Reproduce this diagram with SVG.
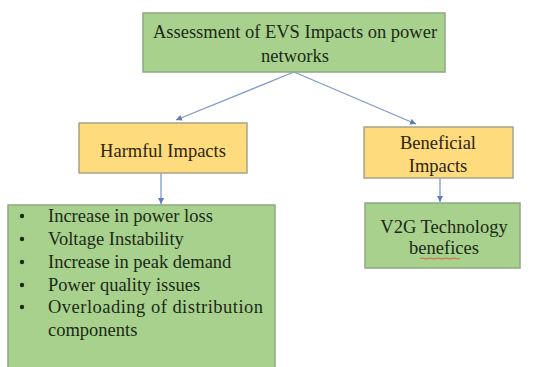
<svg xmlns="http://www.w3.org/2000/svg" width="534" height="367" viewBox="0 0 534 367">
<style>
.g{fill:#a9d18e;stroke:#8fa882;stroke-width:1.5}
.y{fill:#fedb7c;stroke:#a8a38a;stroke-width:1.5}
text{font-family:"Liberation Serif","Times New Roman",serif;font-size:18.5px;fill:#1a2a16}
.m{text-anchor:middle}
.c{stroke:#7f99cc;stroke-width:1.3;fill:none;marker-end:url(#a)}
</style>
<defs>
<marker id="a" markerWidth="8" markerHeight="8" refX="6" refY="3" orient="auto" markerUnits="userSpaceOnUse">
<path d="M0,0 L6,3 L0,6 z" fill="#5f7cb8"/>
</marker>
</defs>
<rect width="534" height="367" fill="#ffffff"/>
<g id="connectors">
<line class="c" x1="294" y1="72" x2="176" y2="120"/>
<line class="c" x1="294" y1="72" x2="416" y2="124"/>
<line class="c" x1="161" y1="173" x2="161" y2="204"/>
<line class="c" x1="440" y1="178" x2="440" y2="202"/>
</g>
<g id="root">
<rect class="g" x="143" y="13" width="302" height="59"/>
<text class="m" x="295" y="38">Assessment of EVS Impacts on power</text>
<text class="m" x="295" y="62">networks</text>
</g>
<g id="harmful">
<rect class="y" x="79" y="123" width="168" height="50"/>
<text class="m" x="163" y="157" style="fill:#2e2412">Harmful Impacts</text>
</g>
<g id="beneficial">
<rect class="y" x="364" y="127" width="149" height="51"/>
<text class="m" x="438" y="149" style="fill:#2e2412">Beneficial</text>
<text class="m" x="438" y="172" style="fill:#2e2412">Impacts</text>
</g>
<g id="v2g">
<rect class="g" x="365" y="203" width="155" height="65"/>
<text class="m" x="444" y="233">V2G Technology</text>
<text class="m" x="444" y="254">benefices</text>
<path d="M420,258.5 q2,-1 4,0 t4,0 t4,0 t4,0 t4,0 t4,0 t4,0 t4,0 t4,0 t4,0" stroke="#e06040" stroke-width="1" fill="none"/>
</g>
<g id="harmful-list">
<rect class="g" x="8" y="205" width="267" height="166"/>
<circle cx="22" cy="216" r="2.2" fill="#1a2a16"/>
<text x="48" y="222">Increase in power loss</text>
<circle cx="22" cy="239" r="2.2" fill="#1a2a16"/>
<text x="48" y="245">Voltage Instability</text>
<circle cx="22" cy="262" r="2.2" fill="#1a2a16"/>
<text x="48" y="268">Increase in peak demand</text>
<circle cx="22" cy="285" r="2.2" fill="#1a2a16"/>
<text x="48" y="291">Power quality issues</text>
<circle cx="22" cy="307" r="2.2" fill="#1a2a16"/>
<text x="48" y="313" textLength="215" lengthAdjust="spacing">Overloading of distribution</text>
<text x="48" y="336">components</text>
</g>
</svg>
